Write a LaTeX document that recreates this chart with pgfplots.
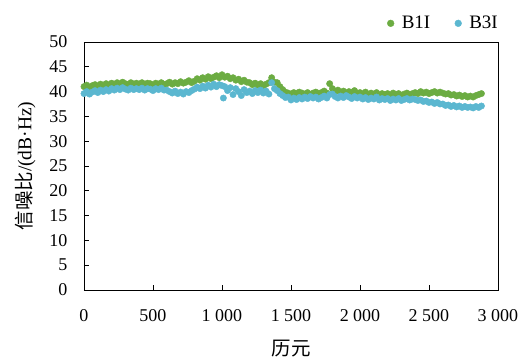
\documentclass[border=0pt]{standalone}
\usepackage{pgfplots}
\pgfplotsset{compat=1.18}
\usepackage{fontspec}
\setmainfont{Liberation Serif}
\newfontfamily\cjk{Noto Sans CJK SC}
\definecolor{gB1}{RGB}{108,172,66}
\definecolor{bB3}{RGB}{91,183,208}
\begin{document}
\begin{tikzpicture}
\begin{axis}[
  scale only axis, width=414bp, height=248bp,
  xmin=0, xmax=3000, ymin=0, ymax=50,
  xtick={0,500,...,3000}, ytick={0,5,...,50},
  tick align=inside, xtick pos=bottom, ytick pos=left,
  major tick length=5bp,
  axis line style={black, line width=0.8pt},
  tick style={black, line width=0.8pt},
  /pgf/number format/assume math mode=true,
  /pgf/number format/1000 sep={\ },
  ticklabel style={font=\fontsize{18bp}{20bp}\selectfont},
  yticklabel style={xshift=-13bp},
  xticklabel style={yshift=-16bp},
  xlabel={\cjk 历元},
  ylabel={{\cjk 信噪比}/(dB·Hz)},
  label style={font=\fontsize{19.5bp}{21bp}\selectfont},
  xlabel style={yshift=-12bp},
  ylabel style={yshift=7bp},
  legend style={at={(1.012,1.03)}, anchor=south east, draw=none, fill=none,
    font=\fontsize{19bp}{21bp}\selectfont, legend columns=2,
    /tikz/every even column/.append style={column sep=22bp}},
  legend cell align=left,
  legend image code/.code={\path[draw=none, fill=none] (0,0) -- (0.46cm,0); \draw[#1, mark size=3.4pt] plot coordinates {(0.14cm,0cm)};},
]
\addplot[only marks, mark=*, mark size=3.2pt, gB1, mark options={draw=gB1, fill=gB1}] table[x index=0, y index=1] {
0 41.0
20 41.3
40 40.8
60 41.2
80 41.4
100 41.0
120 41.5
140 41.2
160 41.6
180 41.3
200 41.7
220 41.4
240 41.8
260 41.5
280 41.9
300 41.6
320 41.4
340 41.8
360 41.5
380 41.7
400 41.5
420 41.8
440 41.4
460 41.7
480 41.6
500 41.3
520 41.7
540 41.5
560 41.8
580 41.4
600 41.6
620 41.9
640 41.5
660 41.8
680 41.6
700 42.0
720 41.7
740 41.9
760 42.2
780 41.8
800 42.1
820 42.6
840 42.3
860 42.8
880 42.5
900 43.0
920 42.6
940 42.9
960 43.2
980 42.8
1000 43.4
1020 42.9
1040 43.1
1060 42.6
1080 42.8
1100 42.3
1120 42.5
1140 42.0
1160 42.3
1180 41.9
1200 41.8
1220 41.4
1240 41.7
1260 41.3
1280 41.6
1300 41.2
1320 41.5
1340 41.8
1360 42.8
1380 41.9
1400 41.8
1420 41.0
1440 40.4
1460 39.9
1480 39.7
1500 39.5
1520 39.8
1540 39.6
1560 39.9
1580 39.7
1600 39.5
1620 39.8
1640 39.4
1660 39.7
1680 39.9
1700 39.6
1720 39.8
1740 40.1
1760 39.7
1780 41.6
1800 40.6
1820 40.0
1840 40.3
1860 39.8
1880 40.1
1900 39.7
1920 40.0
1940 39.8
1960 40.2
1980 39.7
2000 39.8
2020 39.5
2040 39.9
2060 39.4
2080 39.7
2100 39.5
2120 39.8
2140 39.3
2160 39.6
2180 39.4
2200 39.6
2220 39.3
2240 39.7
2260 39.4
2280 39.6
2300 39.2
2320 39.5
2340 39.7
2360 39.4
2380 39.6
2400 39.8
2420 39.6
2440 40.0
2460 39.7
2480 39.9
2500 39.6
2520 39.8
2540 40.0
2560 39.7
2580 39.9
2600 39.7
2620 39.5
2640 39.6
2660 39.3
2680 39.4
2700 39.1
2720 39.3
2740 39.0
2760 39.2
2780 38.9
2800 39.1
2820 38.9
2840 39.2
2860 39.4
2880 39.6
};
\addlegendentry{B1I}
\addplot[only marks, mark=*, mark size=3.2pt, bB3, mark options={draw=bB3, fill=bB3}] table[x index=0, y index=1] {
0 39.6
20 40.0
40 39.5
60 39.9
80 40.2
100 39.8
120 40.3
140 40.0
160 40.4
180 40.1
200 40.6
220 40.3
240 40.7
260 40.4
280 40.8
300 40.5
320 40.3
340 40.7
360 40.4
380 40.6
400 40.4
420 40.7
440 40.3
460 40.6
480 40.5
500 40.2
520 40.6
540 40.4
560 40.7
580 40.3
600 40.3
620 40.0
640 39.7
660 40.1
680 39.6
700 39.9
720 39.5
740 40.0
760 39.8
780 40.2
800 40.5
820 40.9
840 40.6
860 41.1
880 40.7
900 41.3
920 40.9
940 41.5
960 41.0
980 41.4
1000 41.2
1010 38.7
1020 41.0
1040 40.2
1060 40.8
1080 39.4
1100 40.6
1120 40.0
1140 39.2
1160 40.4
1180 39.8
1200 40.1
1220 39.6
1240 40.2
1260 39.8
1280 40.3
1300 39.7
1320 40.1
1340 39.5
1360 41.8
1380 40.6
1400 40.2
1420 39.6
1440 39.2
1460 38.8
1480 38.9
1500 38.3
1520 38.7
1540 38.4
1560 38.8
1580 38.5
1600 38.9
1620 38.6
1640 39.0
1660 38.7
1680 38.9
1700 38.5
1720 38.8
1740 39.1
1760 38.7
1780 39.4
1800 39.5
1820 39.0
1840 38.7
1860 39.1
1880 38.8
1900 39.2
1920 38.9
1940 38.6
1960 39.0
1980 38.7
2000 38.9
2020 38.5
2040 38.8
2060 38.4
2080 38.7
2100 38.5
2120 38.9
2140 38.3
2160 38.6
2180 38.4
2200 38.6
2220 38.2
2240 38.5
2260 38.3
2280 38.6
2300 38.2
2320 38.4
2340 38.6
2360 38.3
2380 38.5
2400 38.4
2420 38.2
2440 38.3
2460 38.0
2480 38.1
2500 37.8
2520 37.9
2540 37.6
2560 37.8
2580 37.5
2600 37.5
2620 37.2
2640 37.3
2660 37.0
2680 37.2
2700 36.9
2720 37.1
2740 36.8
2760 37.0
2780 36.8
2800 36.9
2820 36.7
2840 37.0
2860 36.8
2880 37.1
};
\addlegendentry{B3I}
\end{axis}
\pgfresetboundingbox
\path[use as bounding box] ([shift={(-84bp,-68bp)}]current axis.south west) rectangle ([shift={(26bp,42bp)}]current axis.north east);
\end{tikzpicture}
\end{document}
